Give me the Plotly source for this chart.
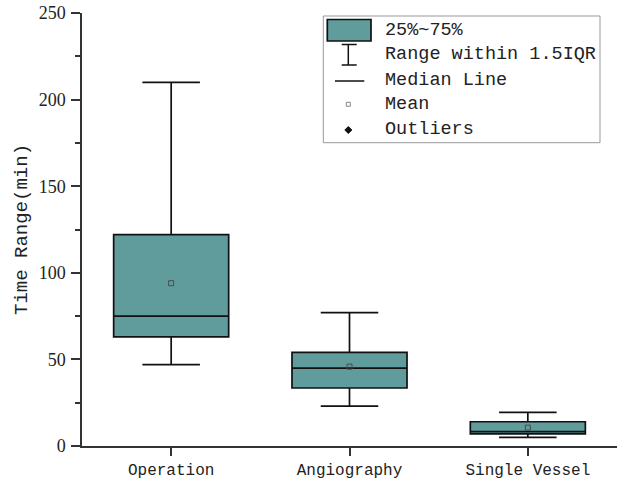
import plotly.graph_objects as go

categories = ["Operation", "Angiography", "Single Vessel"]
lower_fence = [47, 23, 5]
q1_values = [63, 33.5, 7]
medians = [75, 45, 8.3]
q3_values = [122, 54, 14]
upper_fence = [210, 77, 19.4]
means = [94, 45.8, 10.6]

y_ticks = [0, 50, 100, 150, 200, 250]
legend_labels = ["25%~75%", "Range within 1.5IQR", "Median Line", "Mean", "Outliers"]

FILL = "#619C9D"
W_FIG, H_FIG = 617, 482
L, R, T, B = 82, 0, 13, 36
PW = W_FIG - L - R
PH = H_FIG - T - B


def px(x):
    return (x - L) / PW


def py(y):
    return (H_FIG - B - y) / PH


fig = go.Figure()
fig.add_trace(go.Box(
    x=categories, q1=q1_values, median=medians, q3=q3_values,
    lowerfence=lower_fence, upperfence=upper_fence,
    boxpoints=False, fillcolor=FILL, width=0.645, whiskerwidth=0.5,
    line=dict(color="#111111", width=1.7), showlegend=False, hoverinfo="skip",
))
fig.add_trace(go.Scatter(
    x=categories, y=means, mode="markers", showlegend=False,
    marker=dict(symbol="square-open", size=5, color="#4a4a4a", line=dict(width=1)),
))

shapes = []
ann = []
# legend frame
shapes.append(dict(type="rect", xref="paper", yref="paper", x0=px(323.3), x1=px(600),
                   y0=py(16), y1=py(142.7), line=dict(color="#999999", width=1)))
# box symbol
shapes.append(dict(type="rect", xref="paper", yref="paper", x0=px(327.3), x1=px(371),
                   y0=py(19.5), y1=py(41), fillcolor=FILL, line=dict(color="#111111", width=1.7)))
# I-beam
for (a, b, c, d) in [(348.3, 44.5, 348.3, 65), (341.7, 44.5, 356.7, 44.5), (341.7, 65, 356.7, 65)]:
    shapes.append(dict(type="line", xref="paper", yref="paper", x0=px(a), y0=py(b), x1=px(c), y1=py(d),
                       line=dict(color="#111111", width=1.5)))
# median line
shapes.append(dict(type="line", xref="paper", yref="paper", x0=px(335), y0=py(81), x1=px(364.3), y1=py(81),
                   line=dict(color="#111111", width=1.5)))
# mean square
shapes.append(dict(type="rect", xref="paper", yref="paper", x0=px(346.3), x1=px(350.3),
                   y0=py(102.3), y1=py(106.3), line=dict(color="#888888", width=1)))
# outlier diamond
cx, cy, h = 348.3, 130, 3.5
path = "M {} {} L {} {} L {} {} L {} {} Z".format(px(cx), py(cy - h), px(cx + h), py(cy),
                                                  px(cx), py(cy + h), px(cx - h), py(cy))
shapes.append(dict(type="path", xref="paper", yref="paper", path=path, fillcolor="#111111",
                   line=dict(color="#111111", width=1)))

row_y = [30, 55, 80, 104.5, 129]
for lab, yy in zip(legend_labels, row_y):
    ann.append(dict(text=lab, xref="paper", yref="paper", x=px(383), y=py(yy), xanchor="left",
                    yanchor="middle", showarrow=False,
                    font=dict(family="Liberation Mono", size=18.5, color="#222222")))

fig.update_layout(
    width=W_FIG, height=H_FIG, margin=dict(l=L, r=R, t=T, b=B, autoexpand=False),
    paper_bgcolor="white", plot_bgcolor="white", showlegend=False,
    shapes=shapes, annotations=ann,
)
fig.update_xaxes(
    range=[-0.5, 2.5], showline=True, linecolor="#333333", linewidth=1.5,
    ticks="outside", ticklen=8, tickwidth=1.5, tickcolor="#333333",
    tickfont=dict(family="Liberation Mono", size=16, color="#222222"),
    showgrid=False, zeroline=False, ticklabelstandoff=0, automargin=False,
)
fig.update_yaxes(
    range=[0, 250], tickvals=y_ticks, showline=True, linecolor="#333333", linewidth=1.5,
    ticks="outside", ticklen=9, tickwidth=1.5, tickcolor="#333333",
    minor=dict(dtick=25, ticks="outside", ticklen=5, tickwidth=1.5, tickcolor="#333333", showgrid=False),
    tickfont=dict(family="Liberation Serif", size=18, color="#222222"),
    showgrid=False, zeroline=False, ticklabelstandoff=2, automargin=False,
    title=dict(text="Time Range(min)", standoff=6,
               font=dict(family="Liberation Mono", size=19, color="#222222")),
)

fig.write_html("out.html")
